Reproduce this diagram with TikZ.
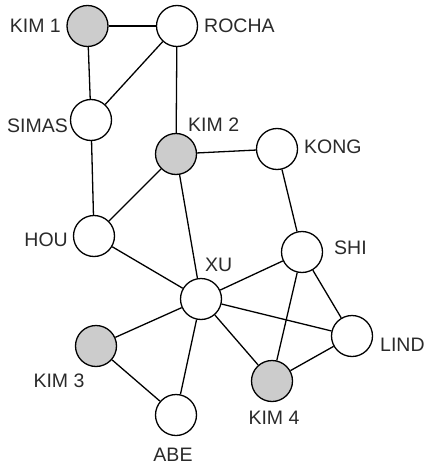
\documentclass[tikz,border=0pt]{standalone}
\usepackage{fontspec}
\setmainfont{Liberation Sans}
\begin{document}
\begin{tikzpicture}[x=1pt,y=-1pt,
  vtx/.style={circle,draw=black,line width=1.3pt,fill=white,minimum size=41pt,inner sep=0pt},
  kim/.style={vtx,fill=kimgray},
  lbl/.style={inner sep=0pt,text=labelgray,font=\fontsize{19.5}{22}\selectfont},
  edge/.style={line width=1.3pt,draw=black}]
\definecolor{kimgray}{HTML}{CCCCCC}
\definecolor{labelgray}{HTML}{2A2A2A}
\useasboundingbox (0,0) rectangle (424,468);
\node[kim] (kim1) at (87.5,26) {};
\node[vtx] (rocha) at (177,26) {};
\node[vtx] (simas) at (91,120) {};
\node[kim] (kim2) at (176,154) {};
\node[vtx] (kong) at (277,149) {};
\node[vtx] (hou) at (94,236) {};
\node[vtx] (shi) at (302,252) {};
\node[vtx] (xu) at (201,299) {};
\node[kim] (kim3) at (96,346) {};
\node[vtx] (lind) at (352,336) {};
\node[kim] (kim4) at (272,381) {};
\node[vtx] (abe) at (176,415) {};
\node[lbl,anchor=east] (tkim1) at (61,26) {KIM 1};
\node[lbl,anchor=west] (trocha) at (204,26) {ROCHA};
\node[lbl,anchor=east] (tsimas) at (68,126) {SIMAS};
\node[lbl,anchor=west] (tkim2) at (188,125) {KIM 2};
\node[lbl,anchor=west] (tkong) at (304,147) {KONG};
\node[lbl,anchor=east] (thou) at (68,240) {HOU};
\node[lbl,anchor=west] (tshi) at (334,248) {SHI};
\node[lbl,anchor=west] (txu) at (205,265) {XU};
\node[lbl] (tkim3) at (59,381) {KIM 3};
\node[lbl,anchor=west] (tlind) at (380,345) {LIND};
\node[lbl] (tkim4) at (274,418) {KIM 4};
\node[lbl] (tabe) at (173,455) {ABE};
\draw[edge] (kim1) -- (rocha);
\draw[edge] (kim1) -- (simas);
\draw[edge] (simas) -- (rocha);
\draw[edge] (rocha) -- (kim2);
\draw[edge] (simas) -- (hou);
\draw[edge] (kim2) -- (hou);
\draw[edge] (kim2) -- (kong);
\draw[edge] (kim2) -- (xu);
\draw[edge] (kong) -- (shi);
\draw[edge] (hou) -- (xu);
\draw[edge] (xu) -- (shi);
\draw[edge] (xu) -- (lind);
\draw[edge] (xu) -- (kim4);
\draw[edge] (xu) -- (kim3);
\draw[edge] (xu) -- (abe);
\draw[edge] (kim3) -- (abe);
\draw[edge] (shi) -- (lind);
\draw[edge] (shi) -- (kim4);
\draw[edge] (lind) -- (kim4);
\end{tikzpicture}
\end{document}
